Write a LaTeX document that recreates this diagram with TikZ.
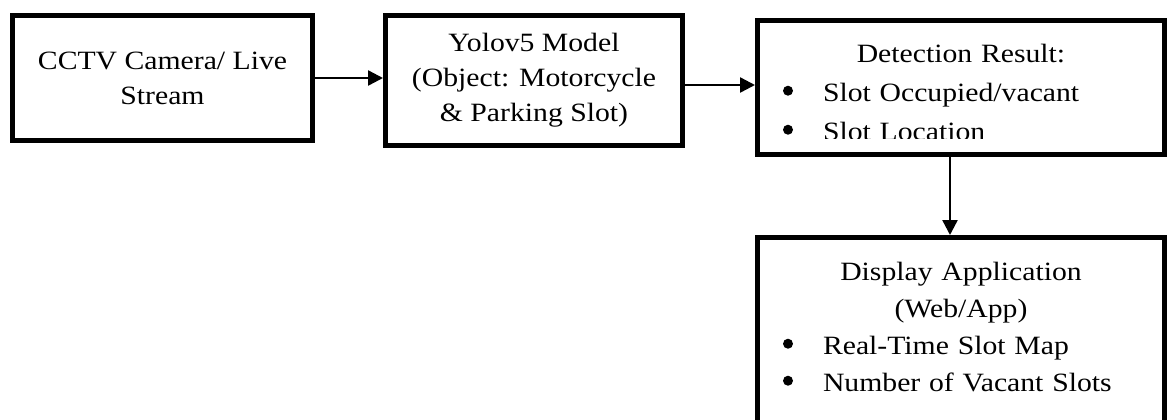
\documentclass[tikz,border=0pt]{standalone}
\usepackage{fontspec}
\setmainfont[FakeStretch=1.125]{Liberation Serif}
\usetikzlibrary{arrows.meta,positioning}
\newlength{\itemwd}\setlength{\itemwd}{200pt}
\newcommand{\slotdot}{\tikz[baseline=-5.5pt]\fill (0,0) circle (2.5pt);}
\newcommand{\slotitem}[1]{\makebox[\itemwd][l]{\hspace{11pt}\slotdot\hspace{15pt}#1}}

\begin{document}
\begin{tikzpicture}[
  box/.style={draw, line width=2.5pt, inner sep=0pt, align=center, font=\fontsize{13.2}{17.5}\selectfont},
  txt/.style={inner sep=0pt, align=center, text width=\itemwd},
  arr/.style={-{Triangle[length=7.5pt,width=7.5pt]}, line width=1.2pt}
]
  \useasboundingbox (-5pt,6.5pt) rectangle (579.5pt,-203pt);
  \clip (-5pt,6.5pt) rectangle (579.5pt,-203pt);

  \node[box, minimum width=150pt, minimum height=62.5pt, anchor=north west] (cam) at (0,0) {CCTV Camera/ Live\\Stream};
  \node[box, minimum width=148.5pt, minimum height=65pt, right=34pt of cam.north east, anchor=north west] (yolo) {Yolov5 Model\\(Object: Motorcycle\\\& Parking Slot)};
  \node[box, minimum width=203.5pt, minimum height=67pt, right=35pt of yolo.north east, anchor=north west, yshift=-2.5pt] (det) {};
  \node[box, minimum width=203.5pt, minimum height=95pt, below=39pt of det] (disp) {};

  % text of the result box is cut off at its lower edge
  \begin{scope}
    \clip (det.north west) rectangle ([yshift=9.5pt]det.south east);
    \node[txt, font=\fontsize{13.2}{19.5}\selectfont, below=13pt of det.north] (detlist) {Detection Result:\\\slotitem{Slot Occupied/vacant}\\\slotitem{Slot Location}};
  \end{scope}
  \node[txt, font=\fontsize{13.2}{18.5}\selectfont, below=13.5pt of disp.north] (displist) {Display Application\\(Web/App)\\\slotitem{Real-Time Slot Map}\\\slotitem{Number of Vacant Slots}};

  \draw[arr] (cam.east) -- (cam.east -| yolo.west);
  \draw[arr] ([yshift=-2.25pt]yolo.east) -- ([yshift=-2.25pt]yolo.east -| det.west);
  \draw[arr] ([xshift=-5.5pt]det.south) -- ([xshift=-5.5pt]det.south |- disp.north);
\end{tikzpicture}
\end{document}
